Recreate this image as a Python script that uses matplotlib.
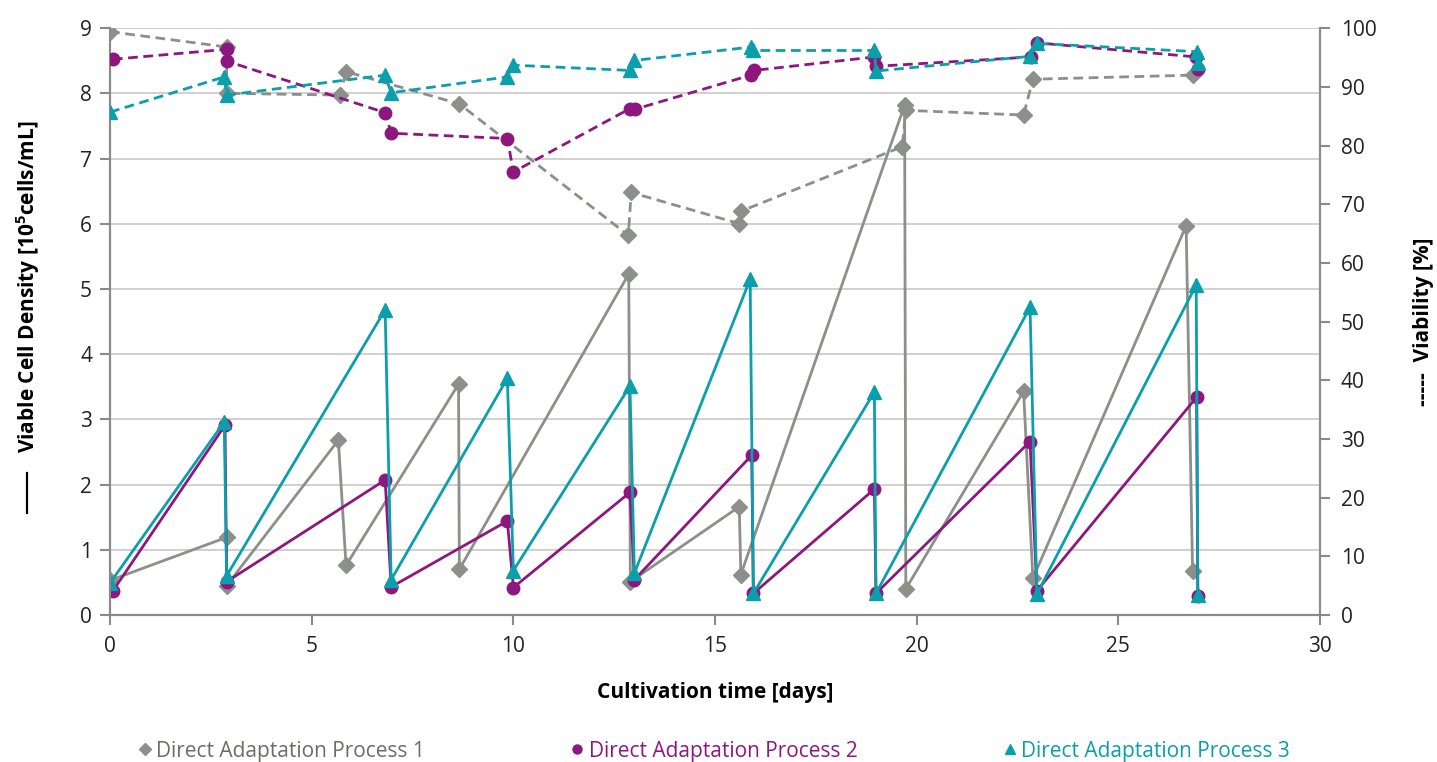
import matplotlib
matplotlib.use("Agg")
import matplotlib.pyplot as plt
from matplotlib.lines import Line2D

plt.rcParams['font.family'] = ['Open Sans', 'DejaVu Sans']

# process names
names = ["Direct Adaptation Process 1", "Direct Adaptation Process 2", "Direct Adaptation Process 3"]

# viable cell density [1e5 cells/mL] (solid lines, left axis)
t1 = [0, 2.89, 2.89, 5.66, 5.85, 8.64, 8.66, 12.86, 12.9, 15.6, 15.64, 19.7, 19.73, 22.65, 22.88, 26.68, 26.84]
vcd1 = [0.53, 1.19, 0.45, 2.68, 0.76, 3.54, 0.70, 5.23, 0.51, 1.66, 0.62, 7.82, 0.40, 3.43, 0.56, 5.97, 0.68]

t2 = [0.07, 2.85, 2.89, 6.82, 6.97, 9.85, 10.0, 12.89, 13.0, 15.91, 15.95, 18.95, 18.99, 22.81, 22.98, 26.94, 26.97]
vcd2 = [0.37, 2.91, 0.51, 2.07, 0.43, 1.44, 0.42, 1.88, 0.54, 2.45, 0.33, 1.93, 0.33, 2.66, 0.37, 3.34, 0.29]

t3 = [0, 2.83, 2.89, 6.82, 6.97, 9.85, 10.0, 12.89, 13.0, 15.87, 15.95, 18.95, 18.99, 22.81, 22.98, 26.93, 26.97]
vcd3 = [0.49, 2.96, 0.60, 4.68, 0.54, 3.63, 0.68, 3.51, 0.64, 5.15, 0.33, 3.42, 0.33, 4.72, 0.32, 5.06, 0.30]

# viability [%] (dashed lines, right axis)
tv1 = [0, 2.89, 2.89, 5.70, 5.85, 8.66, 12.85, 12.92, 15.6, 15.64, 19.64, 19.73, 22.65, 22.88, 26.84]
via1 = [99.4, 96.8, 88.9, 88.6, 92.6, 87.1, 64.7, 72.0, 66.7, 68.8, 79.8, 86.0, 85.2, 91.3, 92.0]

tv2 = [0.07, 2.89, 2.89, 6.82, 6.97, 9.85, 10.0, 12.89, 13.02, 15.89, 15.97, 18.95, 18.99, 22.84, 22.99, 26.93, 26.98]
via2 = [94.7, 96.4, 94.4, 85.6, 82.1, 81.2, 75.5, 86.3, 86.2, 92.0, 92.8, 95.1, 93.5, 95.1, 97.5, 95.1, 93.0]

tv3 = [0, 2.83, 2.89, 6.82, 6.97, 9.85, 10.0, 12.88, 13.0, 15.9, 15.95, 18.95, 18.99, 22.81, 22.99, 26.94, 26.97]
via3 = [85.7, 91.7, 88.6, 92.0, 89.0, 91.7, 93.7, 92.8, 94.5, 96.8, 96.2, 96.2, 92.7, 95.2, 97.4, 96.0, 94.0]

gray = "#8c8f8a"
purple = "#8e177f"
teal = "#0a9fab"
axcol = "#8a8a8a"

fig = plt.figure(figsize=(14.37, 7.62), dpi=100)
ax = fig.add_axes([0.0766, 0.193, 0.842, 0.770])
ax2 = ax.twinx()

series = [
    (t1, vcd1, tv1, via1, gray, "D", 8),
    (t2, vcd2, tv2, via2, purple, "o", 9),
    (t3, vcd3, tv3, via3, teal, "^", 10),
]

for t, v, tv, vi, col, mk, ms in series:
    ax.plot(t, v, color=col, lw=2.0, marker=mk, ms=ms, mec=col, mfc=col, zorder=3)
    ax2.plot(tv, vi, color=col, lw=2.0, ls=(0, (3.5, 2)), marker=mk, ms=ms, mec=col, mfc=col, zorder=3)

ax.set_xlim(0, 30)
ax.set_ylim(0, 9)
ax2.set_ylim(0, 100)
ax.set_xticks(range(0, 31, 5))
ax.set_yticks(range(0, 10))
ax2.set_yticks(range(0, 101, 10))

ax.grid(axis='y', color='#c8c8c8', lw=1.2)
ax.set_axisbelow(True)

for a in (ax, ax2):
    for s in a.spines.values():
        s.set_color(axcol)
        s.set_linewidth(1.5)
    a.spines['top'].set_visible(False)
    a.tick_params(colors=axcol, labelcolor='#222222', labelsize=15, length=7, width=1.5)

ax.tick_params(axis='y', pad=6)
ax2.tick_params(axis='y', pad=8)
ax.tick_params(axis='x', pad=8)

ax.set_xlabel("Cultivation time [days]", fontsize=15, fontweight='bold', labelpad=18)
ax.set_ylabel("Viable Cell Density [10$^{\\mathregular{5}}$cells/mL]", fontsize=15, fontweight='bold')
ax.yaxis.set_label_coords(-0.056, 0.56)
# solid line key in front of the left axis title
fig.add_artist(Line2D([0.0185, 0.0185], [0.327, 0.379], color='black', lw=1.6, transform=fig.transFigure))
ax2.set_ylabel("-----  Viability [%]", fontsize=15, fontweight='bold')
ax2.yaxis.set_label_coords(1.077, 0.5)

handles = [Line2D([], [], color=c, marker=m, ls='none', ms=ms * 0.72, mec=c, mfc=c)
           for (_, _, _, _, c, m, ms) in series]
leg = fig.legend(handles, names, loc='lower center', bbox_to_anchor=(0.497, -0.024), ncol=3,
                 frameon=False, fontsize=15, handlelength=0.6, handletextpad=0.25,
                 columnspacing=7.0)
for txt, col in zip(leg.get_texts(), ["#6b6d69", purple, teal]):
    txt.set_color(col)

fig.savefig("out.png", dpi=100)
